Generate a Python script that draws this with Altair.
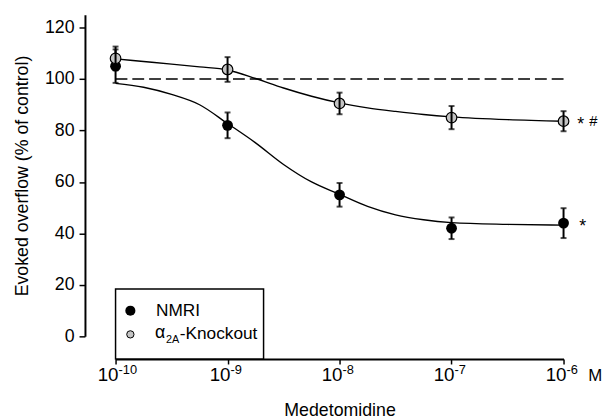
import altair as alt
import pandas as pd

FONT = "Liberation Sans"

# ---- data ----
conc = [1e-10, 1e-9, 1e-8, 1e-7, 1e-6]
tick_base = ["10", "10", "10", "10", "10"]
tick_exp = ["-10", "-9", "-8", "-7", "-6"]
y_ticks = [0, 20, 40, 60, 80, 100, 120]

nmri_mean = [105.0, 82.0, 55.0, 42.0, 44.0]
nmri_err = [6.5, 5.0, 4.6, 4.2, 5.8]
ko_mean = [108.0, 103.7, 90.5, 85.0, 83.6]
ko_err = [4.6, 4.8, 4.2, 4.5, 3.9]

fit_log = [-10, -9.75, -9.5, -9.25, -9, -8.75, -8.5, -8.25, -8, -7.75, -7.5, -7.25, -7, -6.5, -6]
nmri_fit = [98.3, 96.8, 94.0, 90.0, 82.7, 75.2, 66.8, 60.0, 55.2, 50.5, 47.2, 45.3, 44.2, 43.5, 43.2]
ko_fit = [107.8, 106.8, 105.8, 104.7, 103.5, 100.2, 96.5, 93.3, 90.7, 88.8, 87.4, 86.2, 85.3, 84.2, 83.6]

ref_x = [1e-10, 1e-6]
ref_y = [100, 100]

groups = ["NMRI", "a2A-Knockout"]

# ---- tables ----
pts = pd.DataFrame({
    "conc": conc * 2,
    "mean": nmri_mean + ko_mean,
    "err": nmri_err + ko_err,
    "group": [groups[0]] * 5 + [groups[1]] * 5,
})
pts["lo"] = pts["mean"] - pts["err"]
pts["hi"] = pts["mean"] + pts["err"]
nm = pts[pts.group == groups[0]]
ko = pts[pts.group == groups[1]]

fit = pd.DataFrame({
    "conc": [10 ** e for e in fit_log] * 2,
    "value": nmri_fit + ko_fit,
    "group": [groups[0]] * len(fit_log) + [groups[1]] * len(fit_log),
})
ref = pd.DataFrame({"conc": ref_x, "value": ref_y})
ticks_df = pd.DataFrame({"conc": conc, "base": tick_base, "exp": tick_exp})
one = pd.DataFrame({"a": [0]})

W, H = 454, 326
AX_OFF = 23

xscale = alt.Scale(type="log", domain=[1e-10, 1e-6], nice=False)
yscale = alt.Scale(domain=[0, 125], nice=False, zero=False)

x_axis = alt.Axis(values=conc, labels=False, tickSize=5, tickWidth=1.5, tickColor="black",
                  domainWidth=2, domainColor="black", offset=AX_OFF, grid=False,
                  title="Medetomidine", titleFont=FONT, titleFontSize=18,
                  titleFontWeight="normal", titleColor="black", titlePadding=37)
y_axis = alt.Axis(values=y_ticks, tickSize=6, tickWidth=1.5, tickColor="black",
                  domainWidth=2, domainColor="black", offset=31, grid=False,
                  labelFont=FONT, labelFontSize=18, labelColor="black", labelPadding=5,
                  title="Evoked overflow (% of control)", titleFont=FONT, titleFontSize=18,
                  titleFontWeight="normal", titleColor="black", titlePadding=13)

def X(field="conc"):
    return alt.X(f"{field}:Q", scale=xscale, axis=x_axis)

def Y(field):
    return alt.Y(f"{field}:Q", scale=yscale, axis=y_axis)

dashed = alt.Chart(ref).mark_line(color="black", strokeWidth=1.3, strokeDash=[12, 5]).encode(
    x=X(), y=Y("value"))

fits = alt.Chart(fit).mark_line(color="black", strokeWidth=1.4, interpolate="monotone").encode(
    x=X(), y=Y("value"), detail="group:N")

def errbars(df):
    rule = alt.Chart(df).mark_rule(color="black", strokeWidth=2).encode(
        x=X(), y=Y("lo"), y2="hi:Q")
    cap_lo = alt.Chart(df).mark_tick(color="black", orient="horizontal", size=6, thickness=2).encode(
        x=X(), y=Y("lo"))
    cap_hi = alt.Chart(df).mark_tick(color="black", orient="horizontal", size=6, thickness=2).encode(
        x=X(), y=Y("hi"))
    return [rule, cap_lo, cap_hi]

nm_pts = alt.Chart(nm).mark_point(filled=True, color="black", size=120, opacity=1).encode(
    x=X(), y=Y("mean"))
ko_pts = alt.Chart(ko).mark_point(filled=True, fill="#c4c4c4", stroke="black", strokeWidth=1.2,
                                  size=115, opacity=1).encode(x=X(), y=Y("mean"))

# annotations at 10^-6
last_ko = ko[ko.conc == 1e-6]
last_nm = nm[nm.conc == 1e-6]
star_ko = alt.Chart(last_ko).mark_text(text="*", font=FONT, fontSize=18, align="left",
                                       baseline="middle", dx=14, dy=4, color="black").encode(
    x=X(), y=Y("mean"))
hash_ko = alt.Chart(last_ko).mark_text(text="#", font=FONT, fontSize=15, align="left",
                                       baseline="middle", dx=26, color="black").encode(
    x=X(), y=Y("mean"))
star_nm = alt.Chart(last_nm).mark_text(text="*", font=FONT, fontSize=18, align="left",
                                       baseline="middle", dx=16, dy=4, color="black").encode(
    x=X(), y=Y("mean"))

# x tick labels with superscript exponents
lab_base = alt.Chart(ticks_df).mark_text(font=FONT, fontSize=19, align="right", baseline="alphabetic",
                                         dx=3, color="black").encode(
    x=X(), y=alt.value(H + AX_OFF + 22), text="base:N")
lab_exp = alt.Chart(ticks_df).mark_text(font=FONT, fontSize=13, align="left", baseline="alphabetic",
                                        dx=3, color="black").encode(
    x=X(), y=alt.value(H + AX_OFF + 15), text="exp:N")
unit = alt.Chart(ticks_df[ticks_df.conc == 1e-6]).mark_text(
    text="M", font=FONT, fontSize=17, align="left", baseline="alphabetic", dx=25, color="black").encode(
    x=X(), y=alt.value(H + AX_OFF + 22))

# legend
box = alt.Chart(one).mark_rect(fill="white", stroke="black", strokeWidth=1.5).encode(
    x=alt.value(0), x2=alt.value(150), y=alt.value(278), y2=alt.value(349))
leg_nm = alt.Chart(one).mark_point(filled=True, color="black", size=105, opacity=1).encode(
    x=alt.value(15), y=alt.value(300))
leg_ko = alt.Chart(one).mark_point(filled=True, fill="#c4c4c4", stroke="black", strokeWidth=1,
                                   size=55, opacity=1).encode(x=alt.value(15), y=alt.value(324))
t_nm = alt.Chart(one).mark_text(text="NMRI", font=FONT, fontSize=17.5, align="left",
                                baseline="middle", color="black").encode(x=alt.value(41), y=alt.value(300))
t_alpha = alt.Chart(one).mark_text(text="α", font=FONT, fontSize=18, align="left",
                                   baseline="middle", color="black").encode(x=alt.value(40), y=alt.value(323))
t_sub = alt.Chart(one).mark_text(text="2A", font=FONT, fontSize=11, align="left",
                                 baseline="middle", color="black").encode(x=alt.value(51), y=alt.value(330))
t_ko = alt.Chart(one).mark_text(text="-Knockout", font=FONT, fontSize=17.5, align="left",
                                baseline="middle", color="black").encode(x=alt.value(65), y=alt.value(324))

layers = [dashed, fits, nm_pts] + errbars(nm) + [ko_pts] + errbars(ko) + [
    star_ko, hash_ko, star_nm, lab_base, lab_exp, unit,
    box, leg_nm, leg_ko, t_nm, t_alpha, t_sub, t_ko]

chart = alt.layer(*layers).properties(
    width=W, height=H,
    autosize=alt.AutoSizeParams(type="none"),
    padding={"left": 109, "top": 4, "right": 41, "bottom": 81},
).configure_view(strokeWidth=0, stroke="transparent")

chart.save("out.html", embed_options={"renderer": "svg", "actions": False})
